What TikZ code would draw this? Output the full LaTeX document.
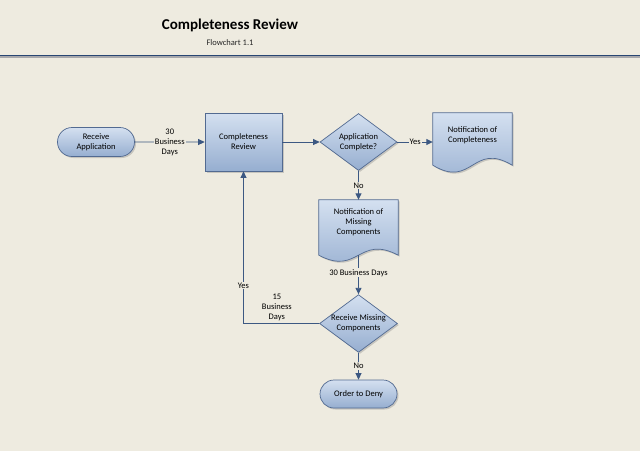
\documentclass[tikz,border=0pt]{standalone}
\usepackage{fontspec}
\setmainfont{Carlito}
\usetikzlibrary{shapes.geometric,shapes.misc,shadows,arrows.meta,calc}
\definecolor{bg}{RGB}{238,235,224}
\definecolor{edgec}{RGB}{60,88,130}
\definecolor{bord}{RGB}{82,106,145}
\definecolor{ftop}{RGB}{212,224,240}
\definecolor{fbot}{RGB}{150,174,208}
\definecolor{rulec}{RGB}{40,70,115}
\definecolor{ruleshadow}{RGB}{168,168,172}
\pgfdeclarelayer{backl}
\pgfdeclarelayer{bgl}
\pgfsetlayers{backl,bgl,main}
\tikzset{
  nodefont/.style={font=\fontsize{8.5}{10}\selectfont},
  basebox/.style={draw=bord, line width=0.7pt, top color=ftop, bottom color=fbot,
    drop shadow={shadow xshift=1.5pt, shadow yshift=-1.5pt, opacity=0.35},
    nodefont, align=center, inner sep=0pt},
  pill/.style={basebox, rounded rectangle, minimum width=77pt, minimum height=29pt},
  procbox/.style={basebox, rectangle, minimum width=77pt, minimum height=58pt},
  decision/.style={basebox, diamond, aspect=1.35, minimum width=77pt, minimum height=57pt},
  doctext/.style={nodefont, align=center, minimum width=79pt, minimum height=44pt, inner sep=0pt},
  docshape/.style={draw=bord, line width=0.7pt, top color=ftop, bottom color=fbot,
    drop shadow={shadow xshift=1.5pt, shadow yshift=-1.5pt, opacity=0.35}},
  conn/.style={draw=edgec, line width=0.9pt, -{Triangle[length=6.5pt,width=6pt]}},
  lbl/.style={fill=bg, inner sep=1pt, nodefont, align=center},
  lblfree/.style={inner sep=1pt, nodefont, align=center},
}
\begin{document}
\begin{tikzpicture}[x=1pt,y=-1pt]
  \begin{pgfonlayer}{backl}
    \fill[bg] (0,0) rectangle (640,451);
  \end{pgfonlayer}
  \useasboundingbox (0,0) rectangle (640,451);

  % title
  \node[font=\fontsize{15}{18}\selectfont\bfseries] (title) at (230,25) {Completeness Review};
  \node[font=\fontsize{8.5}{10}\selectfont, text=black!85] (subtitle) at (230,43) {Flowchart 1.1};
  \draw[ruleshadow, line width=1.4pt] (0,57) -- (640,57);
  \draw[rulec, line width=1.3pt] (0,55.3) -- (640,55.3);

  % nodes
  \node[pill] (recv) at (96,142) {Receive\\Application};
  \node[procbox] (cr) at (243.5,142) {Completeness\\Review};
  \node[decision] (d1) at (358.5,142) {Application\\Complete?};
  \node[doctext] (ncomp) at (472.5,135) {Notification of\\Completeness};
  \node[doctext] (nmiss) at (358.5,222) {Notification of\\Missing\\Components};
  \node[decision] (d2) at (358.5,323.5) {Receive Missing\\Components};
  \node[pill, minimum height=28pt] (deny) at (358.5,394) {Order to Deny};

  \coordinate (nmissb) at ($(nmiss.south)+(0,11)$);

  % document shapes
  \begin{pgfonlayer}{bgl}
    \path[docshape] (ncomp.north west) -- (ncomp.north east) -- ($(ncomp.south east)+(0,8)$)
      .. controls ($(ncomp.south)+(0,-16)$) and ($(ncomp.south)+(0,32)$) .. ($(ncomp.south west)+(0,8)$) -- cycle;
    \path[docshape] (nmiss.north west) -- (nmiss.north east) -- ($(nmiss.south east)+(0,11)$)
      .. controls ($(nmiss.south)+(0,-10)$) and ($(nmiss.south)+(0,32)$) .. ($(nmiss.south west)+(0,11)$) -- cycle;
  \end{pgfonlayer}

  % connectors
  \draw[conn] (recv) -- node[lbl] {30\\Business\\Days} (cr);
  \draw[conn] (cr) -- (d1);
  \draw[conn] (d1.east) -- node[lbl] {Yes} (d1.east -| ncomp.west);
  \draw[conn] (d1.south) -- node[lbl] {No} (nmiss.north);
  \draw[conn] (nmissb) -- node[lbl, pos=0.45] {30 Business Days} (d2.north);
  \draw[conn] (d2.south) -- node[lbl] {No} (deny.north);
  \draw[conn] (d2.west) -| node[lblfree, pos=0.28, above=1pt] {15\\Business\\Days}
                            node[lbl, pos=0.625] {Yes} (cr.south);
\end{tikzpicture}
\end{document}
